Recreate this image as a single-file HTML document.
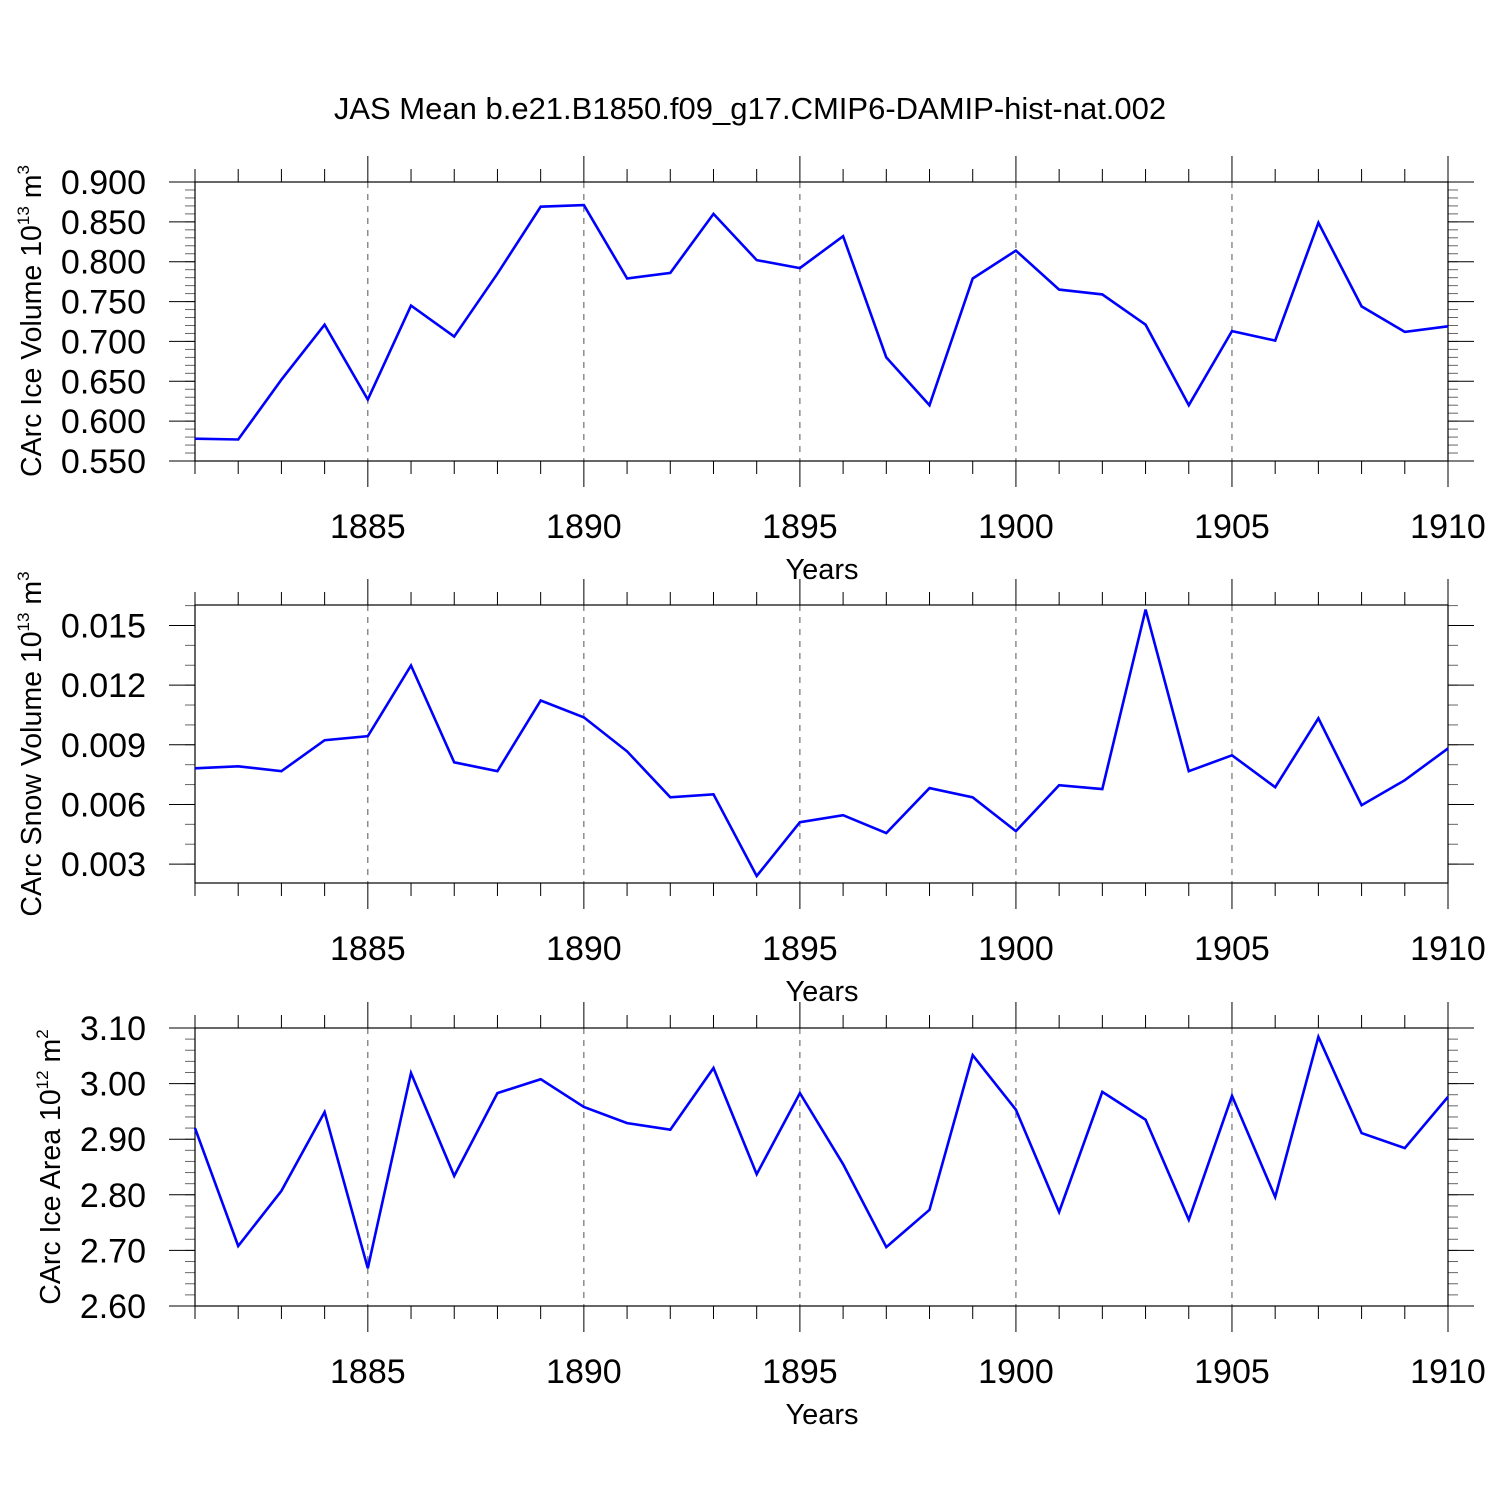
<!DOCTYPE html>
<html><head><meta charset="utf-8"><style>
html,body{margin:0;padding:0;background:#fff;}
svg{display:block;font-family:"Liberation Sans",Arial,sans-serif;}
</style></head><body>
<svg id="c" width="1500" height="1500" viewBox="0 0 1500 1500">
<text x="750" y="119" text-anchor="middle" font-size="31">JAS Mean b.e21.B1850.f09_g17.CMIP6-DAMIP-hist-nat.002</text>
</svg>
<script>
const years=[1881,1882,1883,1884,1885,1886,1887,1888,1889,1890,1891,1892,1893,1894,1895,1896,1897,1898,1899,1900,1901,1902,1903,1904,1905,1906,1907,1908,1909,1910];
const iceVolume=[0.578,0.577,0.652,0.721,0.627,0.745,0.706,0.785,0.869,0.871,0.779,0.786,0.860,0.802,0.792,0.832,0.680,0.620,0.779,0.814,0.765,0.759,0.721,0.620,0.713,0.701,0.849,0.744,0.712,0.719];
const snowVolume=[0.00782,0.00792,0.00767,0.00923,0.00943,0.01299,0.00812,0.00767,0.01123,0.01038,0.00867,0.00636,0.00651,0.0024,0.00511,0.00546,0.00456,0.00682,0.00636,0.00466,0.00697,0.00677,0.0158,0.00767,0.00847,0.00687,0.01033,0.00596,0.00722,0.00882];
const iceArea=[2.920,2.708,2.807,2.949,2.668,3.019,2.834,2.983,3.008,2.958,2.929,2.917,3.028,2.837,2.983,2.855,2.706,2.773,3.051,2.953,2.769,2.985,2.935,2.755,2.978,2.796,3.084,2.911,2.884,2.976];
const xTicks=[1885,1890,1895,1900,1905,1910];
const iceVolTicks=[0.55,0.60,0.65,0.70,0.75,0.80,0.85,0.90];
const snowTicks=[0.003,0.006,0.009,0.012,0.015];
const areaTicks=[2.6,2.7,2.8,2.9,3.0,3.1];

const svg=document.getElementById('c');
const NS='http://www.w3.org/2000/svg';
function mk(tag,attrs,parent){const e=document.createElementNS(NS,tag);for(const k in attrs)e.setAttribute(k,attrs[k]);(parent||svg).appendChild(e);return e;}
const X0=195,X1=1448,YMIN=1881,YMAX=1910;
function xs(y){return X0+(y-YMIN)/(YMAX-YMIN)*(X1-X0);}

function panel(name,top,bot,vmin,vmax,ticks,dec,minorStep,data,titleMain,exp,unitExp,titleY){
  const g=mk('g',{});
  
  
  const ys=v=>bot-(v-vmin)/(vmax-vmin)*(bot-top);
  xTicks.forEach(t=>{if(t<YMAX){const l=mk('line',{x1:xs(t),x2:xs(t),y1:top,y2:bot,stroke:'#555','stroke-width':1,'stroke-dasharray':'6,6'},g);
    }});
  for(let y=YMIN;y<=YMAX;y++){
    const major=xTicks.includes(y);const L=major?26:13;
    mk('line',{x1:xs(y),x2:xs(y),y1:top,y2:top-L,stroke:'#000','stroke-width':1},g);
    mk('line',{x1:xs(y),x2:xs(y),y1:bot,y2:bot+L,stroke:'#000','stroke-width':1},g);
  }
  const start=Math.ceil((vmin-1e-9)/minorStep);
  for(let k=start;k*minorStep<=vmax+1e-9;k++){
    const v=k*minorStep;const yy=ys(v);
    mk('line',{x1:X0,x2:X0-10,y1:yy,y2:yy,stroke:'#666','stroke-width':1},g);
    mk('line',{x1:X1,x2:X1+10,y1:yy,y2:yy,stroke:'#666','stroke-width':1},g);
  }
  ticks.forEach(v=>{const yy=ys(v);
    mk('line',{x1:X0,x2:X0-26,y1:yy,y2:yy,stroke:'#000','stroke-width':1},g);
    mk('line',{x1:X1,x2:X1+26,y1:yy,y2:yy,stroke:'#000','stroke-width':1},g);
    const t=mk('text',{x:146,y:yy+12,'text-anchor':'end','font-size':34},g);t.textContent=v.toFixed(dec);
    
  });
  const f=mk('rect',{x:X0,y:top,width:X1-X0,height:bot-top,fill:'none',stroke:'#000','stroke-width':1.2},g);
  
  xTicks.forEach(t=>{const e=mk('text',{x:xs(t),y:bot+77,'text-anchor':'middle','font-size':34},g);e.textContent=t;
    });
  const xt=mk('text',{x:822,y:bot+118,'text-anchor':'middle','font-size':29},g);xt.textContent='Years';
  
  const yt=mk('text',{transform:`translate(${titleY[0]},${titleY[1]}) rotate(-90)`,'text-anchor':'middle','font-size':28.5},g);
  
  const a=mk('tspan',{},yt);a.textContent=titleMain+' 10';
  const b=mk('tspan',{'font-size':17,dy:-12},yt);b.textContent=exp;
  const c=mk('tspan',{dy:12},yt);c.textContent=' m';
  const d=mk('tspan',{'font-size':17,dy:-12},yt);d.textContent=unitExp;
  const pts=data.map((v,i)=>xs(years[i]).toFixed(1)+','+ys(v).toFixed(1)).join(' ');
  const p=mk('polyline',{points:pts,fill:'none',stroke:'#0000ff','stroke-width':2.6,'stroke-linejoin':'miter'},g);
  
}
panel('ice-volume',182,461,0.55,0.90,iceVolTicks,3,0.01,iceVolume,'CArc Ice Volume','13','3',[41,321]);
panel('snow-volume',605,883,0.00205,0.01603,snowTicks,3,0.001,snowVolume,'CArc Snow Volume','13','3',[41,744]);
panel('ice-area',1028,1306,2.6,3.1,areaTicks,2,0.02,iceArea,'CArc Ice Area','12','2',[60,1167]);
</script>
</body></html>
